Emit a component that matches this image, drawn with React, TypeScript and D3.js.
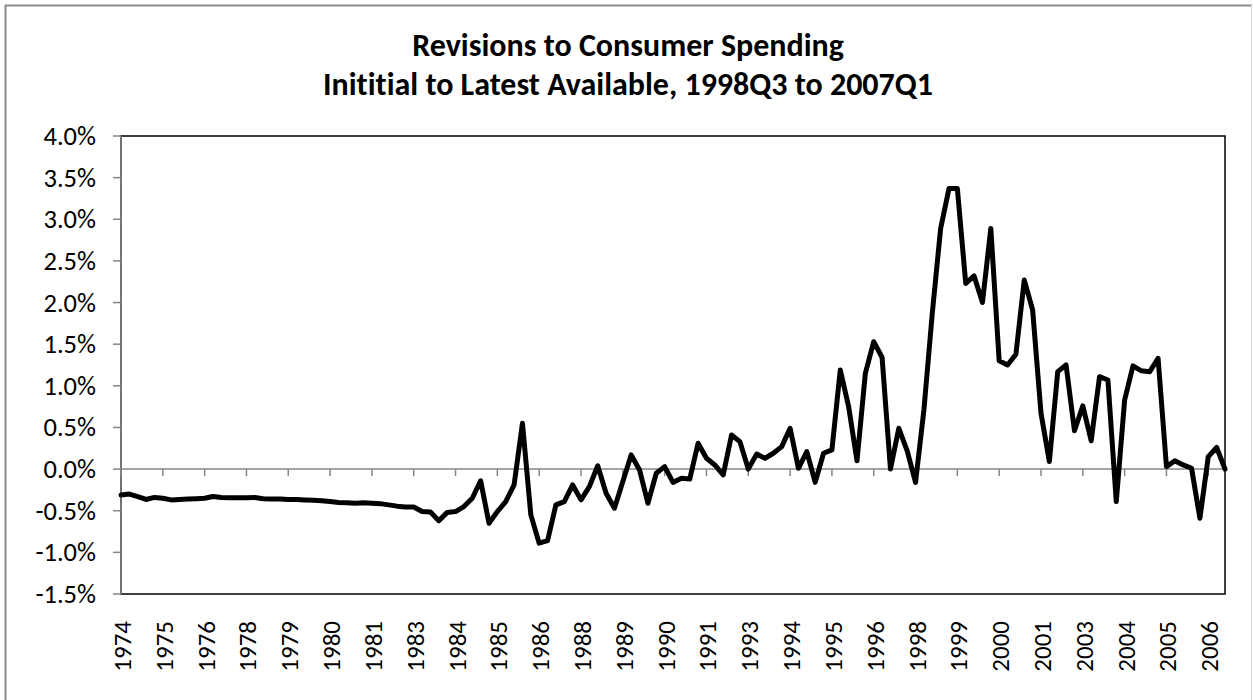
import React from "react";
import * as d3 from "d3";

const titleLines = [
  "Revisions to Consumer Spending",
  "Inititial to Latest Available, 1998Q3 to 2007Q1",
];

// Quarterly revision values (percent), 133 quarters
const revisions: number[] = [
  -0.31, -0.30, -0.33, -0.365, -0.34, -0.35, -0.37, -0.365, -0.36, -0.355,
  -0.35, -0.33, -0.34, -0.345, -0.345, -0.345, -0.34, -0.355, -0.36, -0.36,
  -0.365, -0.365, -0.37, -0.375, -0.38, -0.39, -0.40, -0.405, -0.41, -0.405,
  -0.41, -0.415, -0.43, -0.445, -0.455, -0.455, -0.51, -0.515, -0.62, -0.52,
  -0.51, -0.45, -0.35, -0.14, -0.65, -0.51, -0.39, -0.19, 0.55, -0.55,
  -0.89, -0.86, -0.43, -0.39, -0.19, -0.37, -0.21, 0.04, -0.29, -0.47,
  -0.15, 0.17, -0.01, -0.41, -0.05, 0.03, -0.16, -0.11, -0.12, 0.31,
  0.13, 0.05, -0.07, 0.41, 0.33, 0.0, 0.18, 0.13, 0.19, 0.27,
  0.49, 0.01, 0.21, -0.16, 0.19, 0.23, 1.19, 0.75, 0.10, 1.15,
  1.53, 1.34, 0.0, 0.49, 0.22, -0.16, 0.71, 1.87, 2.89, 3.37,
  3.37, 2.23, 2.32, 2.0, 2.89, 1.30, 1.25, 1.38, 2.27, 1.91,
  0.67, 0.09, 1.17, 1.25, 0.46, 0.76, 0.34, 1.11, 1.07, -0.39,
  0.83, 1.24, 1.18, 1.17, 1.33, 0.03, 0.10, 0.05, 0.01, -0.59,
  0.15, 0.26, 0.0,
];

// Year labels shown every 5th quarter starting at the first
const xTickLabels = [
  "1974", "1975", "1976", "1978", "1979", "1980", "1981", "1983", "1984",
  "1985", "1986", "1988", "1989", "1990", "1991", "1993", "1994", "1995",
  "1996", "1998", "1999", "2000", "2001", "2003", "2004", "2005", "2006",
];
const labelEvery = 5;

const yTicks = [-1.5, -1.0, -0.5, 0.0, 0.5, 1.0, 1.5, 2.0, 2.5, 3.0, 3.5, 4.0];

const W = 1253;
const H = 700;
const plot = { left: 121, right: 1225, top: 136, bottom: 594 };
const font = "Carlito, Calibri, 'Open Sans', sans-serif";
const noLig = { fontVariantLigatures: "none" } as React.CSSProperties;

export default function App() {
  const x = d3
    .scaleLinear()
    .domain([0, revisions.length - 1])
    .range([plot.left, plot.right]);
  const y = d3.scaleLinear().domain([-1.5, 4.0]).range([plot.bottom, plot.top]);
  const line = d3
    .line<number>()
    .x((_, i) => x(i))
    .y((d) => y(d));
  const fmt = (v: number) => v.toFixed(1) + "%";
  const y0 = y(0);
  const axisColor = "#868686";

  return (
    <svg
      width={W}
      height={H}
      style={{ position: "absolute", left: 0, top: 0, background: "#fff" }}
    >
      <rect x={0} y={0} width={W} height={H} fill="#fff" />
      {/* outer chart border */}
      <line x1={5.5} y1={5} x2={5.5} y2={H} stroke="#8c8c8c" strokeWidth={2} />
      <line x1={5} y1={5.5} x2={1252} y2={5.5} stroke="#8c8c8c" strokeWidth={2} />
      <line x1={1251.5} y1={5} x2={1251.5} y2={H} stroke="#d9d9d9" strokeWidth={1} />

      {/* title */}
      {titleLines.map((t, i) => (
        <text
          key={i}
          x={628}
          y={56 + i * 39}
          textAnchor="middle"
          fontFamily={font}
          fontWeight="bold"
          fontSize={32}
          fill="#000"
          style={noLig}
        >
          {t}
        </text>
      ))}

      {/* plot area border */}
      <rect
        x={plot.left}
        y={plot.top}
        width={plot.right - plot.left}
        height={plot.bottom - plot.top}
        fill="none"
        stroke="#000"
        strokeWidth={1.5}
      />

      {/* y axis */}
      <line
        x1={plot.left}
        y1={plot.top}
        x2={plot.left}
        y2={plot.bottom}
        stroke={axisColor}
        strokeWidth={1.5}
      />
      {yTicks.map((t) => (
        <g key={t}>
          <line
            x1={plot.left - 8}
            x2={plot.left}
            y1={y(t)}
            y2={y(t)}
            stroke={axisColor}
            strokeWidth={1.5}
          />
          <text
            x={96}
            y={y(t)}
            textAnchor="end"
            dominantBaseline="central"
            fontFamily={font}
            fontSize={26.5}
            fill="#000"
          >
            {fmt(t)}
          </text>
        </g>
      ))}

      {/* x axis at zero */}
      <line
        x1={plot.left}
        x2={plot.right}
        y1={y0}
        y2={y0}
        stroke={axisColor}
        strokeWidth={1.5}
      />
      {xTickLabels.map((lab, k) => {
        const xi = x(k * labelEvery);
        return (
          <g key={lab + k}>
            <line
              x1={xi}
              x2={xi}
              y1={y0}
              y2={y0 + 7}
              stroke={axisColor}
              strokeWidth={1.5}
            />
            <text
              transform={`translate(${xi + 1.5},${621}) rotate(-90)`}
              textAnchor="end"
              dominantBaseline="central"
              fontFamily={font}
              fontSize={25}
              fill="#000"
            >
              {lab}
            </text>
          </g>
        );
      })}

      {/* data line */}
      <path
        d={line(revisions) || ""}
        fill="none"
        stroke="#000"
        strokeWidth={5}
        strokeLinejoin="round"
        strokeLinecap="round"
      />
    </svg>
  );
}
